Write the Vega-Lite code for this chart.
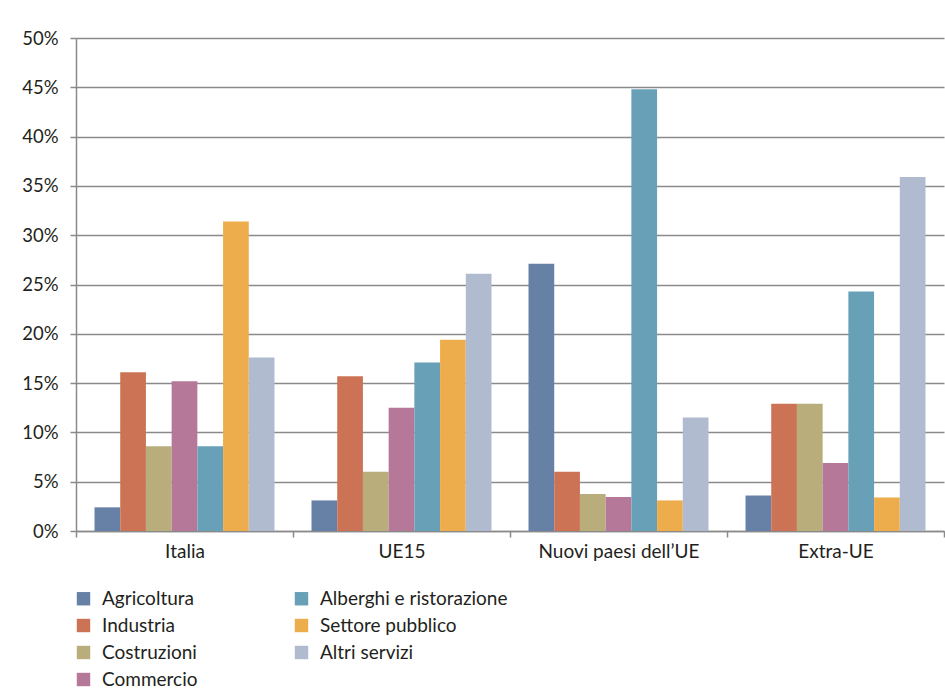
{
  "$schema": "https://vega.github.io/schema/vega-lite/v6.json",
  "width": 868,
  "height": 493,
  "autosize": {"type": "none"},
  "padding": {"left": 76, "top": 38, "right": 1, "bottom": 164},
  "background": "white",
  "config": {
    "view": {"stroke": null},
    "font": "Lato",
    "axis": {"labelFont": "Lato", "labelColor": "#231f20", "labelFontSize": 18.5}
  },
  "data": {
    "values": [
      {"area": "Italia", "settore": "Agricoltura", "quota": 2.4},
      {"area": "Italia", "settore": "Industria", "quota": 16.1},
      {"area": "Italia", "settore": "Costruzioni", "quota": 8.6},
      {"area": "Italia", "settore": "Commercio", "quota": 15.2},
      {"area": "Italia", "settore": "Alberghi e ristorazione", "quota": 8.6},
      {"area": "Italia", "settore": "Settore pubblico", "quota": 31.4},
      {"area": "Italia", "settore": "Altri servizi", "quota": 17.6},
      {"area": "UE15", "settore": "Agricoltura", "quota": 3.1},
      {"area": "UE15", "settore": "Industria", "quota": 15.7},
      {"area": "UE15", "settore": "Costruzioni", "quota": 6.0},
      {"area": "UE15", "settore": "Commercio", "quota": 12.5},
      {"area": "UE15", "settore": "Alberghi e ristorazione", "quota": 17.1},
      {"area": "UE15", "settore": "Settore pubblico", "quota": 19.4},
      {"area": "UE15", "settore": "Altri servizi", "quota": 26.1},
      {"area": "Nuovi paesi dell’UE", "settore": "Agricoltura", "quota": 27.1},
      {"area": "Nuovi paesi dell’UE", "settore": "Industria", "quota": 6.0},
      {"area": "Nuovi paesi dell’UE", "settore": "Costruzioni", "quota": 3.75},
      {"area": "Nuovi paesi dell’UE", "settore": "Commercio", "quota": 3.45},
      {"area": "Nuovi paesi dell’UE", "settore": "Alberghi e ristorazione", "quota": 44.8},
      {"area": "Nuovi paesi dell’UE", "settore": "Settore pubblico", "quota": 3.1},
      {"area": "Nuovi paesi dell’UE", "settore": "Altri servizi", "quota": 11.5},
      {"area": "Extra-UE", "settore": "Agricoltura", "quota": 3.6},
      {"area": "Extra-UE", "settore": "Industria", "quota": 12.9},
      {"area": "Extra-UE", "settore": "Costruzioni", "quota": 12.9},
      {"area": "Extra-UE", "settore": "Commercio", "quota": 6.9},
      {"area": "Extra-UE", "settore": "Alberghi e ristorazione", "quota": 24.3},
      {"area": "Extra-UE", "settore": "Settore pubblico", "quota": 3.4},
      {"area": "Extra-UE", "settore": "Altri servizi", "quota": 35.9}
    ]
  },
  "mark": {"type": "bar"},
  "encoding": {
    "x": {
      "field": "area",
      "type": "nominal",
      "sort": ["Italia", "UE15", "Nuovi paesi dell’UE", "Extra-UE"],
      "scale": {"paddingInner": 0, "paddingOuter": 0},
      "axis": {
        "title": null,
        "labelAngle": 0,
        "labelFontSize": 19,
        "tickBand": "extent",
        "domainColor": "#8a8a8a",
        "domainWidth": 1.5,
        "tickColor": "#8a8a8a",
        "tickWidth": 1.5,
        "tickSize": 6,
        "labelPadding": 5,
        "grid": false
      }
    },
    "xOffset": {
      "field": "settore",
      "type": "nominal",
      "sort": ["Agricoltura", "Industria", "Costruzioni", "Commercio", "Alberghi e ristorazione", "Settore pubblico", "Altri servizi"],
      "scale": {"paddingInner": 0, "paddingOuter": 0.72}
    },
    "y": {
      "field": "quota",
      "type": "quantitative",
      "scale": {"domain": [0, 50], "nice": false},
      "axis": {
        "title": null,
        "values": [0, 5, 10, 15, 20, 25, 30, 35, 40, 45, 50],
        "labelExpr": "datum.value + '%'",
        "domainColor": "#8a8a8a",
        "domainWidth": 1.5,
        "tickColor": "#8a8a8a",
        "tickWidth": 1.5,
        "tickSize": 6,
        "labelPadding": 12,
        "gridColor": "#8a8a8a",
        "gridWidth": 1.5
      }
    },
    "color": {
      "field": "settore",
      "type": "nominal",
      "scale": {
        "domain": ["Agricoltura", "Alberghi e ristorazione", "Industria", "Settore pubblico", "Costruzioni", "Altri servizi", "Commercio"],
        "range": ["#6781a6", "#68a0b8", "#cc7356", "#eead4c", "#b9ae7b", "#b0bbcf", "#b57898"]
      },
      "legend": {
        "title": null,
        "orient": "none",
        "legendX": -2,
        "legendY": 551,
        "columns": 2,
        "direction": "horizontal",
        "columnPadding": 94,
        "rowPadding": 7,
        "symbolType": "square",
        "symbolSize": 180,
        "symbolStrokeWidth": 0,
        "symbolOpacity": 1,
        "labelFont": "Lato",
        "labelFontSize": 19,
        "labelLimit": 400,
        "labelColor": "#231f20",
        "labelOffset": 9
      }
    }
  }
}
